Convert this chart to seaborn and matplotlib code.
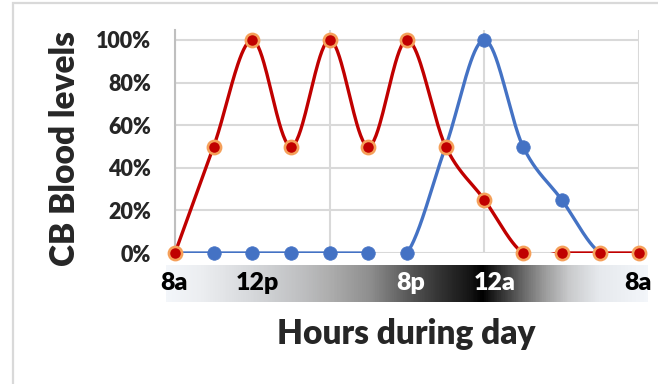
import numpy as np
import pandas as pd
import matplotlib
matplotlib.use("Agg")
import matplotlib.pyplot as plt
import seaborn as sns
from matplotlib.colors import LinearSegmentedColormap
from matplotlib.patches import Rectangle

# ---- data -------------------------------------------------------------
hours = [0, 2, 4, 6, 8, 10, 12, 14, 16, 18, 20, 22, 24]
red_levels = [0.0, 0.5, 1.0, 0.5, 1.0, 0.5, 1.0, 0.5, 0.25, 0.0, 0.0, 0.0, 0.0]
blue_levels = [0.0, 0.0, 0.0, 0.0, 0.0, 0.0, 0.0, 0.5, 1.0, 0.5, 0.25, 0.0, 0.0]
y_ticks = [0.0, 0.2, 0.4, 0.6, 0.8, 1.0]
y_tick_labels = ["0%", "20%", "40%", "60%", "80%", "100%"]
band_labels = ["8a", "12p", "8p", "12a", "8a"]
band_label_hours = [0, 4, 12, 16, 24]
band_label_colors = ["black", "black", "white", "white", "black"]

# ---- style ------------------------------------------------------------
sns.set_style("white")
plt.rcParams["font.family"] = ["Lato", "DejaVu Sans"]

RED = "#c00000"
RED_EDGE = "#f5a05a"
BLUE = "#4472c4"
GRID = "#d9d9d9"
WEIGHT = "heavy"

W, H = 658, 384
DPI = 100
fig = plt.figure(figsize=(W / DPI, H / DPI), dpi=DPI)


def px_box(x0, y0, x1, y1):
    """Figure-fraction box from pixel corners (top-left origin)."""
    return [x0 / W, 1 - y1 / H, (x1 - x0) / W, (y1 - y0) / H]


# chart border (left and top edges visible)
fig.patches.append(Rectangle((12.5 / W, -0.1), 2.0, 1.1 - 2.5 / H,
                             transform=fig.transFigure, fill=False,
                             edgecolor=GRID, linewidth=1.6))

ax = fig.add_axes(px_box(175, 30, 639, 253))


def smooth(xs, ys, n=40):
    """Bezier smoothing through every point (cardinal spline)."""
    p = np.column_stack([xs, ys]).astype(float)
    ext = np.vstack([p[0], p, p[-1]])
    out = []
    for i in range(len(p) - 1):
        p0, p1, p2, p3 = ext[i], ext[i + 1], ext[i + 2], ext[i + 3]
        c1 = p1 + (p2 - p0) / 6.0
        c2 = p2 - (p3 - p1) / 6.0
        t = np.linspace(0, 1, n, endpoint=(i == len(p) - 2))[:, None]
        seg = ((1 - t) ** 3) * p1 + 3 * ((1 - t) ** 2) * t * c1 \
            + 3 * (1 - t) * t ** 2 * c2 + t ** 3 * p2
        out.append(seg)
    out = np.vstack(out)
    return out[:, 0], out[:, 1]


for levels, color in [(blue_levels, BLUE), (red_levels, RED)]:
    sx, sy = smooth(hours, levels)
    curve = pd.DataFrame({"h": sx, "v": sy})
    sns.lineplot(data=curve, x="h", y="v", ax=ax, color=color, lw=2.4,
                 sort=False, estimator=None, zorder=3)

pts_blue = pd.DataFrame({"h": hours, "v": blue_levels})
pts_red = pd.DataFrame({"h": hours, "v": red_levels})
sns.scatterplot(data=pts_blue, x="h", y="v", ax=ax, color=BLUE, s=95,
                edgecolor=BLUE, linewidth=0.5, zorder=4, clip_on=False)
sns.scatterplot(data=pts_red, x="h", y="v", ax=ax, color=RED, s=90,
                edgecolor=RED_EDGE, linewidth=1.9, zorder=5, clip_on=False)

ax.set_xlim(0, 24)
ax.set_ylim(0, 223 / 213)
ax.set_xticks([0, 8, 16, 24])
ax.set_xticklabels([])
ax.set_yticks(y_ticks)
ax.set_yticklabels(y_tick_labels, fontsize=15.5, fontweight=WEIGHT)
ax.tick_params(axis="both", length=0)
ax.tick_params(axis="y", pad=17)
ax.set_xlabel("")
ax.set_ylabel("")
ax.grid(True, color=GRID, linewidth=1.5)
ax.set_axisbelow(True)
for side in ["top", "right", "bottom"]:
    ax.spines[side].set_visible(False)
ax.spines["left"].set_color("#bfbfbf")
ax.spines["left"].set_linewidth(1.5)

# ---- day/night band under the axis -------------------------------------
band_x0, band_x1 = 166, 648
px_per_hour = (639 - 175) / 24
bax = fig.add_axes(px_box(band_x0, 265, band_x1, 302))
h0 = (band_x0 - 175) / px_per_hour
h1 = (band_x1 - 175) / px_per_hour
stops_px = [166, 200, 252, 300, 330, 370, 406, 440, 470, 483, 497, 522, 545,
            570, 600, 648]
stops_col = ["#f3f6fa", "#eceef1", "#d6d8db", "#bfc0c2", "#adadad", "#8e8e8e",
             "#5c5c5c", "#333333", "#151515", "#000000", "#262626", "#646464",
             "#9a9a9a", "#c9cacc", "#e6e9ed", "#f3f6fa"]
frac = [(s - band_x0) / (band_x1 - band_x0) for s in stops_px]
cmap = LinearSegmentedColormap.from_list("daynight", list(zip(frac, stops_col)))
grad = np.linspace(0, 1, 600)[None, :]
bax.imshow(grad, cmap=cmap, aspect="auto", extent=[h0, h1, 0, 1])
bax.set_xlim(h0, h1)
bax.set_ylim(0, 1)
bax.axis("off")
nudge_px = [-1, 5, 4, 10, -1]
for lab, hr, col, dx in zip(band_labels, band_label_hours, band_label_colors, nudge_px):
    bax.text(hr + dx / px_per_hour, 0.5, lab, ha="center", va="center",
             fontsize=18, fontweight=WEIGHT, color=col)

# ---- axis titles ------------------------------------------------------
fig.text(65 / W, 1 - 149 / H, "CB Blood levels", rotation=90, ha="center",
         va="center", fontsize=24, fontweight=WEIGHT)
fig.text(406 / W, 1 - 344 / H, "Hours during day", ha="center",
         va="baseline", fontsize=24, fontweight=WEIGHT)

fig.savefig("out.png", dpi=DPI)
